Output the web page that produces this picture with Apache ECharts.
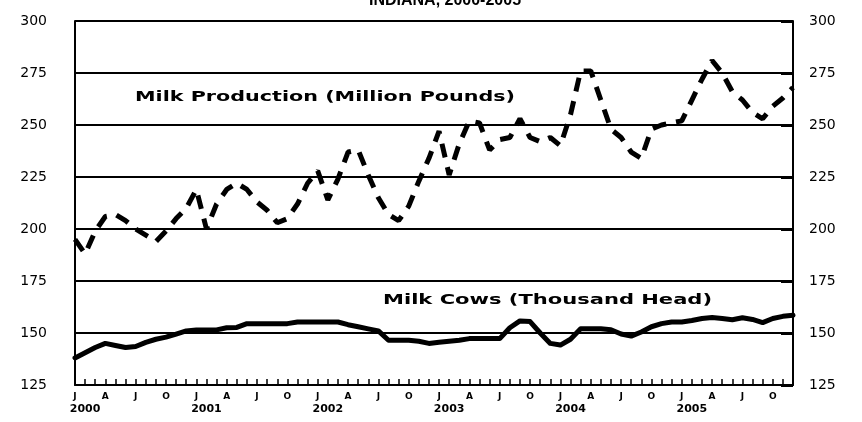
<!DOCTYPE html>
<html>
<head>
<meta charset="utf-8">
<script src="https://cdn.jsdelivr.net/npm/echarts@6/dist/echarts.min.js"></script>
<style>
html,body{margin:0;padding:0;background:#fff;}
#chart{width:862px;height:422px;}
</style>
</head>
<body>
<div id="chart"></div>
<script>
// ---- data ----
const years = ['2000', '2001', '2002', '2003', '2004', '2005'];
const monthNames = ['Jan','Feb','Mar','Apr','May','Jun','Jul','Aug','Sep','Oct','Nov','Dec'];
const monthLetters = ['J','','','A','','','J','','','O','',''];
const yTicks = [125, 150, 175, 200, 225, 250, 275, 300];

// Milk production, million pounds (Jan 2000 - Dec 2005)
const milkProduction = [
  195, 188, 199, 206, 207, 204, 200, 197, 194, 199, 205, 210,
  219, 200, 212, 219, 222, 219, 213, 209, 203, 205, 212, 222,
  228, 214, 224, 237, 238, 226, 215, 207, 204, 211, 223, 234,
  247, 226, 241, 252, 251, 238, 243, 244, 253, 244, 242, 244,
  240, 255, 276, 276, 262, 248, 244, 237, 234, 248, 250, 251,
  252, 262, 272, 281, 275, 266, 262, 256, 253, 259, 263, 268
];
// Milk cows, thousand head
const milkCows = [
  138, 140.5, 143, 145, 144, 143, 143.5, 145.5, 147, 148, 149.5, 151,
  151.5, 151.5, 151.5, 152.5, 152.7, 154.5, 154.5, 154.5, 154.5, 154.5, 155.3, 155.3,
  155.3, 155.3, 155.3, 154, 153, 152, 151, 146.5, 146.5, 146.5, 146, 145,
  145.5, 146, 146.5, 147.3, 147.3, 147.3, 147.3, 152.5, 155.8, 155.5, 150, 145,
  144.2, 147, 152, 152, 152, 151.6, 149.5, 148.5, 150.5, 153, 154.5, 155.3,
  155.3, 156, 157, 157.4, 157, 156.4, 157.3, 156.5, 155, 157, 158, 158.5
];

const categories = [];
years.forEach(y => monthNames.forEach(m => categories.push(m + ' ' + y)));

// ---- helpers for stretched text labels ----
function measure(text, font) {
  const c = document.createElement('canvas').getContext('2d');
  c.font = font;
  return c.measureText(text).width;
}
function stretchedText(text, x, y, targetWidth, font) {
  const w = measure(text, font);
  return {
    type: 'text', x: x, y: y, scaleX: targetWidth / w, scaleY: 1, z: 10,
    style: { text: text, font: font, fill: '#000', textAlign: 'left', textVerticalAlign: 'middle' }
  };
}

const chart = echarts.init(document.getElementById('chart'), null, { renderer: 'canvas' });
const labelFont = 'bold 14px "DejaVu Sans"';

chart.setOption({
  animation: false,
  backgroundColor: '#fff',
  grid: { left: 75, right: 69, top: 21, bottom: 37, containLabel: false },
  xAxis: {
    type: 'category',
    data: categories,
    boundaryGap: false,
    axisLine: { lineStyle: { color: '#000', width: 2 } },
    axisTick: { show: true, inside: true, length: 6, interval: 0, lineStyle: { color: '#000', width: 1.5 } },
    axisLabel: {
      interval: 0,
      margin: 6,
      color: '#000',
      lineHeight: 12,
      formatter: function (v, i) {
        const m = monthLetters[i % 12];
        const yr = (i % 12 === 1) ? years[Math.floor(i / 12)] : '';
        return (m ? '{m|' + m + '}' : ' ') + '\n' + (yr ? '{y|' + yr + '}' : ' ');
      },
      rich: {
        m: { fontSize: 9, fontWeight: 'bold', fontFamily: 'DejaVu Sans', lineHeight: 12, color: '#000' },
        y: { fontSize: 11, fontWeight: 'bold', fontFamily: 'DejaVu Sans', lineHeight: 12, color: '#000' }
      }
    },
    splitLine: { show: false }
  },
  yAxis: [
    {
      type: 'value', position: 'left', min: 125, max: 300, interval: 25,
      axisLine: { show: true, lineStyle: { color: '#000', width: 2 } },
      axisTick: { show: false },
      axisLabel: { margin: 28, color: '#000', fontSize: 14, fontFamily: 'DejaVu Sans',
        formatter: v => String(yTicks[yTicks.indexOf(v)]) },
      splitLine: { show: true, lineStyle: { color: '#000', width: 2 } }
    },
    {
      type: 'value', position: 'right', min: 125, max: 300, interval: 25,
      axisLine: { show: true, lineStyle: { color: '#000', width: 2 } },
      axisTick: { show: true, inside: true, length: 12, lineStyle: { color: '#000', width: 3 } },
      axisLabel: { margin: 16, color: '#000', fontSize: 14, fontFamily: 'DejaVu Sans',
        formatter: v => String(yTicks[yTicks.indexOf(v)]) },
      splitLine: { show: false }
    }
  ],
  series: [
    {
      name: 'Milk Production (Million Pounds)',
      type: 'line', yAxisIndex: 0, data: milkProduction, symbol: 'none', smooth: false,
      lineStyle: { color: '#000', width: 5, type: [14, 10], cap: 'butt' }, z: 5
    },
    {
      name: 'Milk Cows (Thousand Head)',
      type: 'line', yAxisIndex: 0, data: milkCows, symbol: 'none', smooth: false,
      lineStyle: { color: '#000', width: 5, cap: 'round', join: 'round' }, z: 5
    }
  ],
  graphic: [
    {
      type: 'text', x: 445, y: 9, z: 10,
      style: { text: 'INDIANA, 2000-2005', font: 'bold 16px "Liberation Sans"', fill: '#000',
        textAlign: 'center', textVerticalAlign: 'bottom' }
    },
    stretchedText('Milk Production (Million Pounds)', 135, 97, 380, labelFont),
    stretchedText('Milk Cows (Thousand Head)', 383, 300, 329, labelFont)
  ]
});
</script>
</body>
</html>
